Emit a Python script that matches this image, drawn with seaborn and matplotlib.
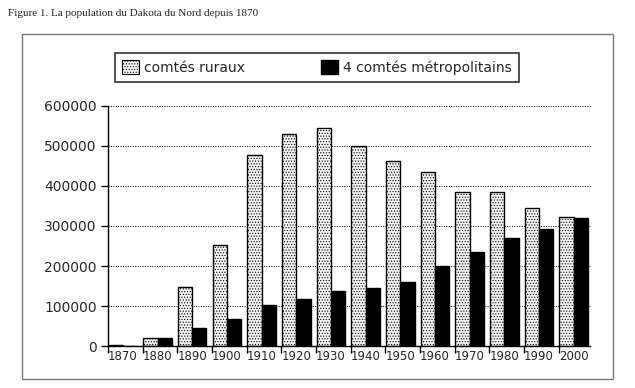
import matplotlib
matplotlib.use("Agg")
import matplotlib.pyplot as plt
import seaborn as sns
import pandas as pd
from matplotlib.patches import Rectangle, Patch

years = ["1870", "1880", "1890", "1900", "1910", "1920", "1930",
         "1940", "1950", "1960", "1970", "1980", "1990", "2000"]
rural = [2400, 19000, 147000, 253000, 477000, 531000, 546000,
         499000, 462000, 436000, 385000, 385000, 346000, 323000]
metro = [0, 19000, 44000, 67000, 102000, 118000, 137000,
         145000, 161000, 200000, 236000, 270000, 293000, 320000]
series_names = ["comtés ruraux", "4 comtés métropolitains"]
yticks = [0, 100000, 200000, 300000, 400000, 500000, 600000]
title = "Figure 1. La population du Dakota du Nord depuis 1870"

df = pd.DataFrame({
    "year": years * 2,
    "pop": rural + metro,
    "series": [series_names[0]] * len(years) + [series_names[1]] * len(years),
})

sns.set_theme(style="white")
plt.rcParams["font.family"] = ["DejaVu Sans"]
plt.rcParams["hatch.linewidth"] = 0.5

fig = plt.figure(figsize=(6.35, 3.88), dpi=100)
ax = fig.add_axes([108 / 635, 42 / 388, (590 - 108) / 635, (346 - 106) / 388])

sns.barplot(data=df, x="year", y="pop", hue="series", order=years,
            hue_order=series_names, palette=["white", "black"],
            width=0.82, gap=0, saturation=1, ax=ax, legend=False,
            edgecolor="black", linewidth=1)

for p in ax.containers[0]:
    p.set_facecolor("#f4f4f4")
    p.set_hatch("......")
    p.set_edgecolor("black")
    p.set_linewidth(1.0)

ax.set_ylim(0, 600000)
ax.set_xlim(-0.43, 13.47)
ax.set_yticks(yticks)
ax.set_yticklabels([str(v) for v in yticks], fontsize=10)
ax.set_xticks(range(len(years)))
ax.set_xticklabels(years, fontsize=8.5)
ax.tick_params(axis="x", which="major", bottom=True, length=0, pad=3)
ax.set_xticks([i - 0.43 for i in range(len(years))], minor=True)
ax.tick_params(axis="x", which="minor", bottom=True, length=5, width=1,
               color="black", direction="out")
ax.tick_params(axis="y", which="major", left=True, length=5, width=1,
               color="black", direction="out", pad=3)
ax.set_xlabel("")
ax.set_ylabel("")

for v in yticks[1:]:
    ax.axhline(v, color="black", linestyle=(0, (1, 1.5)), linewidth=0.7,
               zorder=0, clip_on=False)

for s in ["top", "right"]:
    ax.spines[s].set_visible(False)
for s in ["left", "bottom"]:
    ax.spines[s].set_color("black")
    ax.spines[s].set_linewidth(1)

handles = [Patch(facecolor="#f4f4f4", edgecolor="black", hatch="......", linewidth=0.8),
           Patch(facecolor="black", edgecolor="black")]
leg = fig.legend(handles, series_names, loc="lower left", ncol=2, mode="expand",
                 bbox_to_anchor=(115 / 635, (388 - 82) / 388, (519 - 115) / 635, 36 / 388),
                 bbox_transform=fig.transFigure, fontsize=10, frameon=True, fancybox=False,
                 edgecolor="black", handlelength=1.2, handleheight=1.2, handletextpad=0.4,
                 borderaxespad=0, borderpad=0.5)
leg.get_frame().set_linewidth(1.2)

fig.patches.append(Rectangle((22 / 635, (388 - 379) / 388), (613 - 22) / 635, (379 - 34) / 388,
                             transform=fig.transFigure, fill=False, edgecolor="#777777",
                             linewidth=1.0))

fig.text(8 / 635, 1 - 14 / 388, title, family=["Liberation Serif"], fontsize=8,
         ha="left", va="center", color="#222222")

fig.savefig("out.png", dpi=100)
